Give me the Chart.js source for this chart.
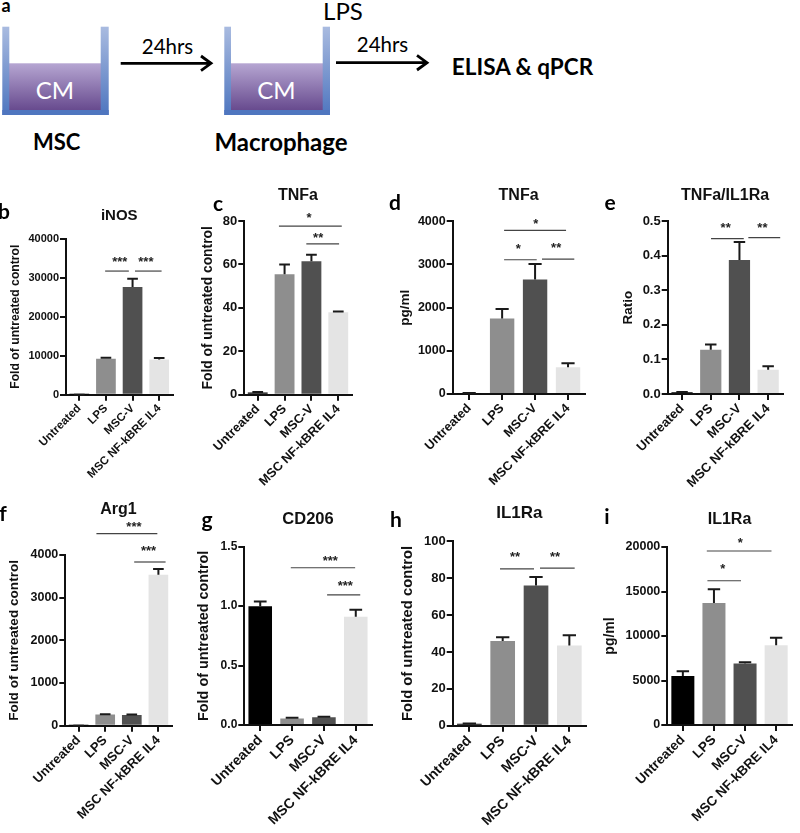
<!DOCTYPE html>
<html>
<head>
<meta charset="utf-8">
<title>Macrophage panels</title>
<script src="https://cdn.jsdelivr.net/npm/chart.js@4"></script>
<style>
  html, body { margin: 0; padding: 0; background: #fff; }
  #page { position: relative; width: 800px; height: 833px; overflow: hidden; }
  #page canvas { position: absolute; }
  #schema { position: absolute; left: 0; top: 0; }
  .txt { position: absolute; transform: translate(-50%, -50%); white-space: nowrap; font-family: Lato, sans-serif; color: #000; }
  .bold { font-weight: 700; }
</style>
</head>
<body>
<div id="page">
  <svg id="schema" width="800" height="130">
    <defs>
      <linearGradient id="wall" x1="0" y1="0" x2="0" y2="1">
        <stop offset="0" stop-color="#a9bbe0"/><stop offset="1" stop-color="#4f76bf"/>
      </linearGradient>
      <linearGradient id="liquid" x1="0" y1="0" x2="0" y2="1">
        <stop offset="0" stop-color="#b6a6d2"/><stop offset="1" stop-color="#674a8e"/>
      </linearGradient>
    </defs>
    <g id="well1">
      <rect x="9" y="63.3" width="92" height="47" fill="url(#liquid)"/>
      <rect x="2.3" y="26.7" width="7" height="88.3" fill="url(#wall)"/>
      <rect x="100.7" y="26.7" width="8" height="88.3" fill="url(#wall)"/>
      <rect x="2.3" y="110" width="106.4" height="5" fill="#4f76bf"/>
    </g>
    <g id="well2">
      <rect x="231" y="63.3" width="92" height="47" fill="url(#liquid)"/>
      <rect x="224.3" y="26.7" width="6.7" height="88.3" fill="url(#wall)"/>
      <rect x="322.7" y="26.7" width="7.3" height="88.3" fill="url(#wall)"/>
      <rect x="224.3" y="110" width="105.7" height="5" fill="#4f76bf"/>
    </g>
    <g stroke="#000" stroke-width="2.8" fill="none">
      <path d="M120.7 63.3H211M201 56L211 63.3L201 70.6"/>
      <path d="M336 62.7H427M417 55.4L427 62.7L417 70"/>
    </g>
  </svg>
  <div class="txt" style="left:55px;top:89px;font-size:24px;color:#fff">CM</div>
  <div class="txt" style="left:276.5px;top:89px;font-size:24px;color:#fff">CM</div>
  <div class="txt" style="left:167.5px;top:46px;font-size:20.5px">24hrs</div>
  <div class="txt" style="left:382.5px;top:44.3px;font-size:20.5px">24hrs</div>
  <div class="txt" style="left:343px;top:10px;font-size:24px">LPS</div>
  <div class="txt bold" style="left:522.5px;top:66px;font-size:22.5px">ELISA &amp; qPCR</div>
  <div class="txt bold" style="left:56.7px;top:141px;font-size:22px">MSC</div>
  <div class="txt bold" style="left:281px;top:141px;font-size:24px">Macrophage</div>
</div>
<script>
// categories shared by every bar panel
const categories = ["Untreated", "LPS", "MSC-V", "MSC NF-kBRE IL4"];
const barColors = ["#000000", "#8e8e8e", "#505050", "#e4e4e4"];

// values, tops = upper end of the error bar
const inosValues = [1, 9200, 27600, 9000];
const inosTops = [1, 9500, 29700, 9400];
const tnfFoldValues = [1, 55.5, 61.5, 38];
const tnfFoldTops = [1.2, 60, 64.5, 38.3];
const tnfPgValues = [20, 1750, 2650, 620];
const tnfPgTops = [25, 1970, 3010, 710];
const ratioValues = [0.005, 0.128, 0.388, 0.07];
const ratioTops = [0.006, 0.143, 0.44, 0.08];
const arg1Values = [1, 260, 250, 3540];
const arg1Tops = [1, 270, 260, 3670];
const cd206Values = [1.0, 0.055, 0.065, 0.91];
const cd206Tops = [1.04, 0.06, 0.07, 0.97];
const il1FoldValues = [1, 46, 76, 43.5];
const il1FoldTops = [1.2, 48, 80.7, 49];
const il1PgValues = [5500, 13700, 6900, 8950];
const il1PgTops = [6050, 15250, 7050, 9800];

// significance: from category, to category, line value, stars, star category, star value
const inosSig = [[0.97, 1.86, 31700, "***", 1.52, 34800], [2.09, 3.09, 31700, "***", 2.5, 34800]];
const tnfFoldSig = [[0.79, 3.13, 77.6, "*", 1.91, 83], [1.81, 3.03, 69.5, "**", 2.25, 73.9]];
const tnfPgSig = [[1.06, 2.94, 3791, "*", 2.02, 4030], [1.06, 2.05, 3110, "*", 1.49, 3451], [2.21, 3.19, 3125, "**", 2.64, 3467]];
const ratioSig = [[1.01, 2.15, 0.4496, "**", 1.52, 0.491], [2.31, 3.42, 0.4525, "**", 2.8, 0.492]];
const arg1Sig = [[0.67, 2.96, 4499, "***", 2.08, 4742], [2.09, 3.27, 3836, "***", 2.63, 4180]];
const cd206Sig = [[0.96, 2.98, 1.323, "***", 2.2, 1.413], [2.1, 3.14, 1.094, "***", 2.67, 1.197]];
const il1FoldSig = [[0.92, 1.94, 85, "**", 1.37, 93.5], [2.12, 3.16, 85.5, "**", 2.57, 93.6]];
const il1PgSig = [[0.77, 2.85, 19550, "*", 1.85, 20800], [0.79, 1.87, 16210, "*", 1.28, 17870]];

const FONT = '"Liberation Sans", Arial, sans-serif';

// errorbars and stars, both placed through the chart's scales
const marksPlugin = {
  id: "marks",
  afterDatasetsDraw(chart, args, opts) {
    const { ctx, scales: { x, y } } = chart;
    const meta = chart.getDatasetMeta(0);
    ctx.save();
    ctx.strokeStyle = "#1a1a1a";
    ctx.lineWidth = 2;
    opts.tops.forEach((top, i) => {
      const bar = meta.data[i];
      const cap = bar.width * 0.27;
      const yTop = y.getPixelForValue(top);
      ctx.beginPath();
      ctx.moveTo(bar.x, bar.y);
      ctx.lineTo(bar.x, yTop);
      ctx.moveTo(bar.x - cap, yTop);
      ctx.lineTo(bar.x + cap, yTop);
      ctx.stroke();
    });
    ctx.strokeStyle = "#444";
    ctx.lineWidth = 1.2;
    ctx.fillStyle = "#222";
    ctx.font = "bold 13px " + FONT;
    ctx.textAlign = "center";
    ctx.textBaseline = "alphabetic";
    opts.sig.forEach(s => {
      const yLine = y.getPixelForValue(s[2]);
      ctx.beginPath();
      ctx.moveTo(x.getPixelForValue(s[0]), yLine);
      ctx.lineTo(x.getPixelForValue(s[1]), yLine);
      ctx.stroke();
      ctx.fillText(s[3], x.getPixelForValue(s[4]), y.getPixelForValue(s[5]) + 7.5);
    });
    ctx.restore();
  }
};

function drawPanel(p) {
  const lineH = p.titleSize * 1.2;
  const yLineH = p.yTitleSize * 1.2;
  const canvasLeft = Math.round(p.yTitleX - yLineH / 2);
  const canvasTop = Math.round(p.titleY - lineH / 2 - 2);
  const xHeight = 105;
  const canvas = document.createElement("canvas");
  canvas.width = Math.ceil(p.right + 6 - canvasLeft);
  canvas.height = Math.ceil(p.bottom + xHeight - canvasTop);
  canvas.style.left = canvasLeft + "px";
  canvas.style.top = canvasTop + "px";
  document.getElementById("page").appendChild(canvas);

  new Chart(canvas, {
    type: "bar",
    data: {
      labels: categories,
      datasets: [{ data: p.values, backgroundColor: barColors, barPercentage: 0.74, categoryPercentage: 1 }]
    },
    plugins: [marksPlugin],
    options: {
      responsive: false,
      animation: false,
      layout: { padding: { right: canvas.width - (p.right - canvasLeft), bottom: canvas.height - xHeight - (p.bottom - canvasTop) } },
      plugins: {
        legend: { display: false },
        tooltip: { enabled: false },
        title: {
          display: true,
          text: p.title,
          fullSize: false,
          color: "#111",
          font: { family: FONT, size: p.titleSize, weight: "bold", lineHeight: 1.2 },
          padding: { top: 2, bottom: p.top - canvasTop - 2 - lineH }
        },
        marks: { tops: p.tops, sig: p.sig }
      },
      scales: {
        x: {
          afterFit: s => { s.height = xHeight; s.paddingLeft = 0; s.paddingRight = 0; },
          border: { color: "#111", width: 2 },
          grid: { offset: false, drawOnChartArea: false, color: "#111", lineWidth: 2, tickLength: 6 },
          ticks: {
            color: "#111",
            autoSkip: false,
            maxRotation: 45,
            minRotation: 45,
            padding: 1,
            font: { family: FONT, size: p.xSize, weight: "bold" }
          }
        },
        y: {
          min: 0,
          max: p.max,
          afterFit: s => { s.width = p.axisX - canvasLeft; s.paddingTop = 0; s.paddingBottom = 0; },
          border: { color: "#111", width: 2 },
          grid: { drawOnChartArea: false, color: "#111", lineWidth: 2, tickLength: 6 },
          title: {
            display: true,
            text: p.yTitle,
            color: "#111",
            padding: 0,
            font: { family: FONT, size: p.yTitleSize, weight: "bold", lineHeight: 1.2 }
          },
          ticks: {
            color: "#111",
            stepSize: p.step,
            padding: 1,
            font: { family: FONT, size: p.tickSize, weight: "bold" },
            callback: v => v.toFixed(p.decimals)
          }
        }
      }
    }
  });
}

const FOLD = "Fold of untreated control";

[
  { title: "iNOS", values: inosValues, tops: inosTops, sig: inosSig, max: 40000, step: 10000, decimals: 0, yTitle: FOLD,
    axisX: 66, right: 172.5, top: 238.7, bottom: 394.7, titleY: 215.7, yTitleX: 15, titleSize: 15, yTitleSize: 12.2, tickSize: 11, xSize: 11.5 },
  { title: "TNFa", values: tnfFoldValues, tops: tnfFoldTops, sig: tnfFoldSig, max: 80, step: 20, decimals: 0, yTitle: FOLD,
    axisX: 244.3, right: 351.7, top: 221, bottom: 394.7, titleY: 196, yTitleX: 208, titleSize: 16, yTitleSize: 13.8, tickSize: 13, xSize: 12.7 },
  { title: "TNFa", values: tnfPgValues, tops: tnfPgTops, sig: tnfPgSig, max: 4000, step: 1000, decimals: 0, yTitle: "pg/ml",
    axisX: 452.7, right: 584.5, top: 221.3, bottom: 394, titleY: 195.7, yTitleX: 405, titleSize: 16, yTitleSize: 13.5, tickSize: 12.5, xSize: 12.7 },
  { title: "TNFa/IL1Ra", values: ratioValues, tops: ratioTops, sig: ratioSig, max: 0.5, step: 0.1, decimals: 1, yTitle: "Ratio",
    axisX: 667.7, right: 782.5, top: 221.3, bottom: 394, titleY: 196, yTitleX: 628, titleSize: 16, yTitleSize: 13.5, tickSize: 13, xSize: 13 },
  { title: "Arg1", values: arg1Values, tops: arg1Tops, sig: arg1Sig, max: 4000, step: 1000, decimals: 0, yTitle: FOLD,
    axisX: 65.3, right: 171.7, top: 555, bottom: 725.7, titleY: 510, yTitleX: 14, titleSize: 16, yTitleSize: 13.6, tickSize: 12.5, xSize: 13 },
  { title: "CD206", values: cd206Values, tops: cd206Tops, sig: cd206Sig, max: 1.5, step: 0.5, decimals: 1, yTitle: FOLD,
    axisX: 244.3, right: 371.7, top: 546.7, bottom: 725, titleY: 520, yTitleX: 204, titleSize: 16.5, yTitleSize: 14.4, tickSize: 12, xSize: 14 },
  { title: "IL1Ra", values: il1FoldValues, tops: il1FoldTops, sig: il1FoldSig, max: 100, step: 20, decimals: 0, yTitle: FOLD,
    axisX: 452.7, right: 586, top: 541.3, bottom: 725.7, titleY: 513, yTitleX: 408, titleSize: 17, yTitleSize: 14.8, tickSize: 13, xSize: 14 },
  { title: "IL1Ra", values: il1PgValues, tops: il1PgTops, sig: il1PgSig, max: 20000, step: 5000, decimals: 0, yTitle: "pg/ml",
    axisX: 667.3, right: 791.7, top: 547, bottom: 725, titleY: 520, yTitleX: 610.7, titleSize: 16, yTitleSize: 14, tickSize: 12.5, xSize: 13.5 }
].forEach(drawPanel);

// panel letters
[["a", 6, 5], ["b", 4, 210], ["c", 218, 202], ["d", 395, 201], ["e", 610, 201],
 ["f", 3, 512], ["g", 207, 518], ["h", 396, 518], ["i", 607, 515]].forEach(([t, x, y]) => {
  const d = document.createElement("div");
  d.className = "txt bold";
  d.style.cssText = `left:${x}px;top:${y}px;font-size:${t === "a" ? 18 : 21}px`;
  d.textContent = t;
  document.getElementById("page").appendChild(d);
});
</script>
</body>
</html>
